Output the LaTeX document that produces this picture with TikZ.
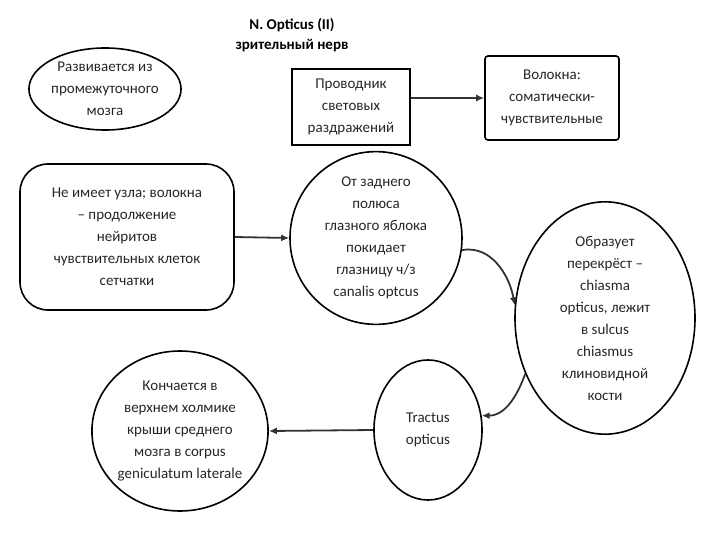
\documentclass[tikz,border=0pt]{standalone}
\usepackage{fontspec}
\setmainfont{Carlito}
\usetikzlibrary{shapes.geometric,arrows.meta}
\begin{document}
\begin{tikzpicture}[x=1pt,y=-1pt,
  txt/.style={align=center,font=\fontsize{15}{22}\selectfont,text=black!85},
  ell/.style={ellipse,draw,line width=1.6pt,txt,inner sep=0pt},
  box/.style={draw,line width=1.6pt,txt},
  arr/.style={-{Latex[length=8pt,width=7pt]},line width=1.8pt,black!80}]
\useasboundingbox (0,0) rectangle (720,540);
\node[font=\bfseries\fontsize{15}{20}\selectfont,align=center] (t) at (292,35) {N. Opticus (II)\\зрительный нерв};
\node[ell,minimum width=150,minimum height=82] (e1) at (105,89) {Развивается из\\промежуточного\\мозга};
\node[box,minimum width=118,minimum height=76] (r1) at (351,107) {Проводник\\световых\\раздражений};
\node[box,rounded corners=3pt,minimum width=134,minimum height=84] (r2) at (552,98) {Волокна:\\соматически-\\чувствительные};
\node[box,rounded corners=28pt,minimum width=214,minimum height=146] (r3) at (127,237) {Не имеет узла; волокна\\– продолжение\\нейритов\\чувствительных клеток\\сетчатки};
\node[ell,minimum width=172,minimum height=148] (e2) at (376,238) {От заднего\\полюса\\глазного яблока\\покидает\\глазницу ч/з\\canalis optcus};
\node[ell,minimum width=180,minimum height=226] (e3) at (605,318) {Образует\\перекрёст –\\chiasma\\opticus, лежит\\в sulcus\\chiasmus\\клиновидной\\кости};
\node[ell,minimum width=108,minimum height=140] (e4) at (428,430) {Tractus\\opticus};
\node[ell,minimum width=170,minimum height=160] (e5) at (180,431) {Кончается в\\верхнем холмике\\крыши среднего\\мозга в corpus\\geniculatum laterale};
\draw[arr] (r1.east |- 0,98) -- (r2.west |- 0,98);
\draw[arr] (r3.east |- 0,237) -- (e2.west);
\draw[arr] (e2.-8) to[out=10,in=100] (e3.172);
\draw[arr] (e3.215) to[out=250,in=0] (e4.15);
\draw[arr] (e4.west) -- (e5.east);
\end{tikzpicture}
\end{document}
